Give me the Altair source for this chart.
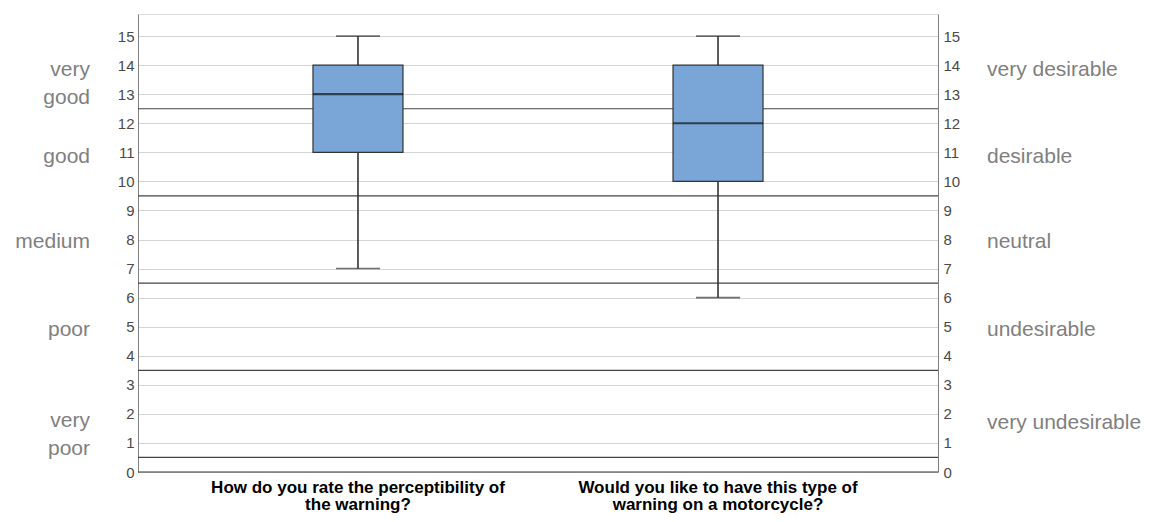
import altair as alt
import pandas as pd

# Box-plot summaries for the two survey questions (scale 0-15)
questions = [
    "How do you rate the perceptibility of\nthe warning?",
    "Would you like to have this type of\nwarning on a motorcycle?",
]
whisker_low = [7, 6]
q1 = [11, 10]
median = [13, 12]
q3 = [14, 14]
whisker_high = [15, 15]

# Rating bands: boundaries and their verbal labels on each side
band_edges = [0.5, 3.5, 6.5, 9.5, 12.5]
left_labels = ["very\ngood", "good", "medium", "poor", "very\npoor"]
left_label_y = [13.83, 10.85, 7.9, 4.9, 1.75]   # first line of each label
right_labels = ["very desirable", "desirable", "neutral", "undesirable", "very undesirable"]
right_label_y = [13.83, 10.85, 7.9, 4.9, 1.68]

y_ticks = list(range(0, 16))

boxes = pd.DataFrame({
    "question": questions,
    "lo": whisker_low,
    "q1": q1,
    "med": median,
    "q3": q3,
    "hi": whisker_high,
})
edges = pd.DataFrame({"edge": band_edges})
left_df = pd.DataFrame({"label": left_labels, "y": left_label_y})
right_df = pd.DataFrame({"label": right_labels, "y": right_label_y})

W, H = 800, 458
y_scale = alt.Scale(domain=[0, 15.76], nice=False, zero=False)
x_scale = alt.Scale(domain=questions, paddingInner=0, paddingOuter=0.111)

FONT = "Liberation Sans"
x_enc = alt.X("question:N", scale=x_scale, axis=None, sort=questions)


def y_enc(field):
    return alt.Y(field, scale=y_scale, axis=None)


base = alt.Chart(boxes)

# Left value axis with light gridlines
left_axis = base.mark_rule(opacity=0).encode(
    x=x_enc,
    y=alt.Y("lo:Q", scale=y_scale,
            axis=alt.Axis(orient="left", values=y_ticks, title=None, ticks=False,
                          grid=True, gridColor="#d4d4d4", gridWidth=1.2,
                          domainColor="#808080", labelColor="#4a4a4a",
                          labelFont=FONT, labelFontSize=15, labelPadding=4)),
)

# Right value axis (same scale)
right_axis = base.mark_rule(opacity=0).encode(
    x=x_enc,
    y=alt.Y("hi:Q", scale=y_scale,
            axis=alt.Axis(orient="right", values=y_ticks, title=None, ticks=False,
                          grid=False, domainColor="#808080", labelColor="#4a4a4a",
                          labelFont=FONT, labelFontSize=15, labelPadding=5)),
)

bottom_line = alt.Chart(pd.DataFrame({"v": [0]})).mark_rule(color="#333333", strokeWidth=1).encode(
    y=y_enc("v:Q"), x=alt.value(0), x2=alt.value(W)
)

separators = alt.Chart(edges).mark_rule(color="#444444", strokeWidth=1.2).encode(
    y=y_enc("edge:Q"), x=alt.value(0), x2=alt.value(W)
)

whiskers = base.mark_rule(color="#333333", strokeWidth=1.6).encode(
    x=x_enc, y=y_enc("lo:Q"), y2="hi:Q"
)
caps_hi = base.mark_tick(color="#333333", thickness=1.6, size=44, orient="horizontal").encode(
    x=x_enc, y=y_enc("hi:Q")
)
caps_lo = base.mark_tick(color="#333333", thickness=1.6, size=44, orient="horizontal").encode(
    x=x_enc, y=y_enc("lo:Q")
)
box = base.mark_bar(size=90, color="#79a6d6", stroke="#333333", strokeWidth=1.2).encode(
    x=x_enc, y=y_enc("q1:Q"), y2="q3:Q"
)
med = base.mark_tick(color="#111111", thickness=2.2, size=90, orient="horizontal").encode(
    x=x_enc, y=y_enc("med:Q")
)

left_text = alt.Chart(left_df).mark_text(
    align="right", baseline="middle", font=FONT, fontSize=21, color="#808080",
    lineBreak="\n", lineHeight=28,
).encode(y=y_enc("y:Q"), x=alt.value(-48), text="label:N")

right_text = alt.Chart(right_df).mark_text(
    align="left", baseline="middle", font=FONT, fontSize=21, color="#808080",
).encode(y=y_enc("y:Q"), x=alt.value(W + 49), text="label:N")

x_labels = base.mark_text(
    align="center", baseline="alphabetic", font=FONT, fontWeight="bold",
    fontSize=17, color="#000000", lineBreak="\n", lineHeight=17,
).encode(x=x_enc, y=alt.value(H + 21), text="question:N")

chart = alt.layer(
    left_axis, right_axis, separators, bottom_line, whiskers, caps_hi, caps_lo,
    box, med, left_text, right_text, x_labels,
).resolve_axis(y="independent").properties(
    width=W, height=H,
    autosize=alt.AutoSizeParams(type="none"),
    padding={"left": 138, "top": 14, "right": 223, "bottom": 50},
).configure_view(stroke=None).configure(background="white")

chart.save("out.html", embed_options={"renderer": "svg", "actions": False})
